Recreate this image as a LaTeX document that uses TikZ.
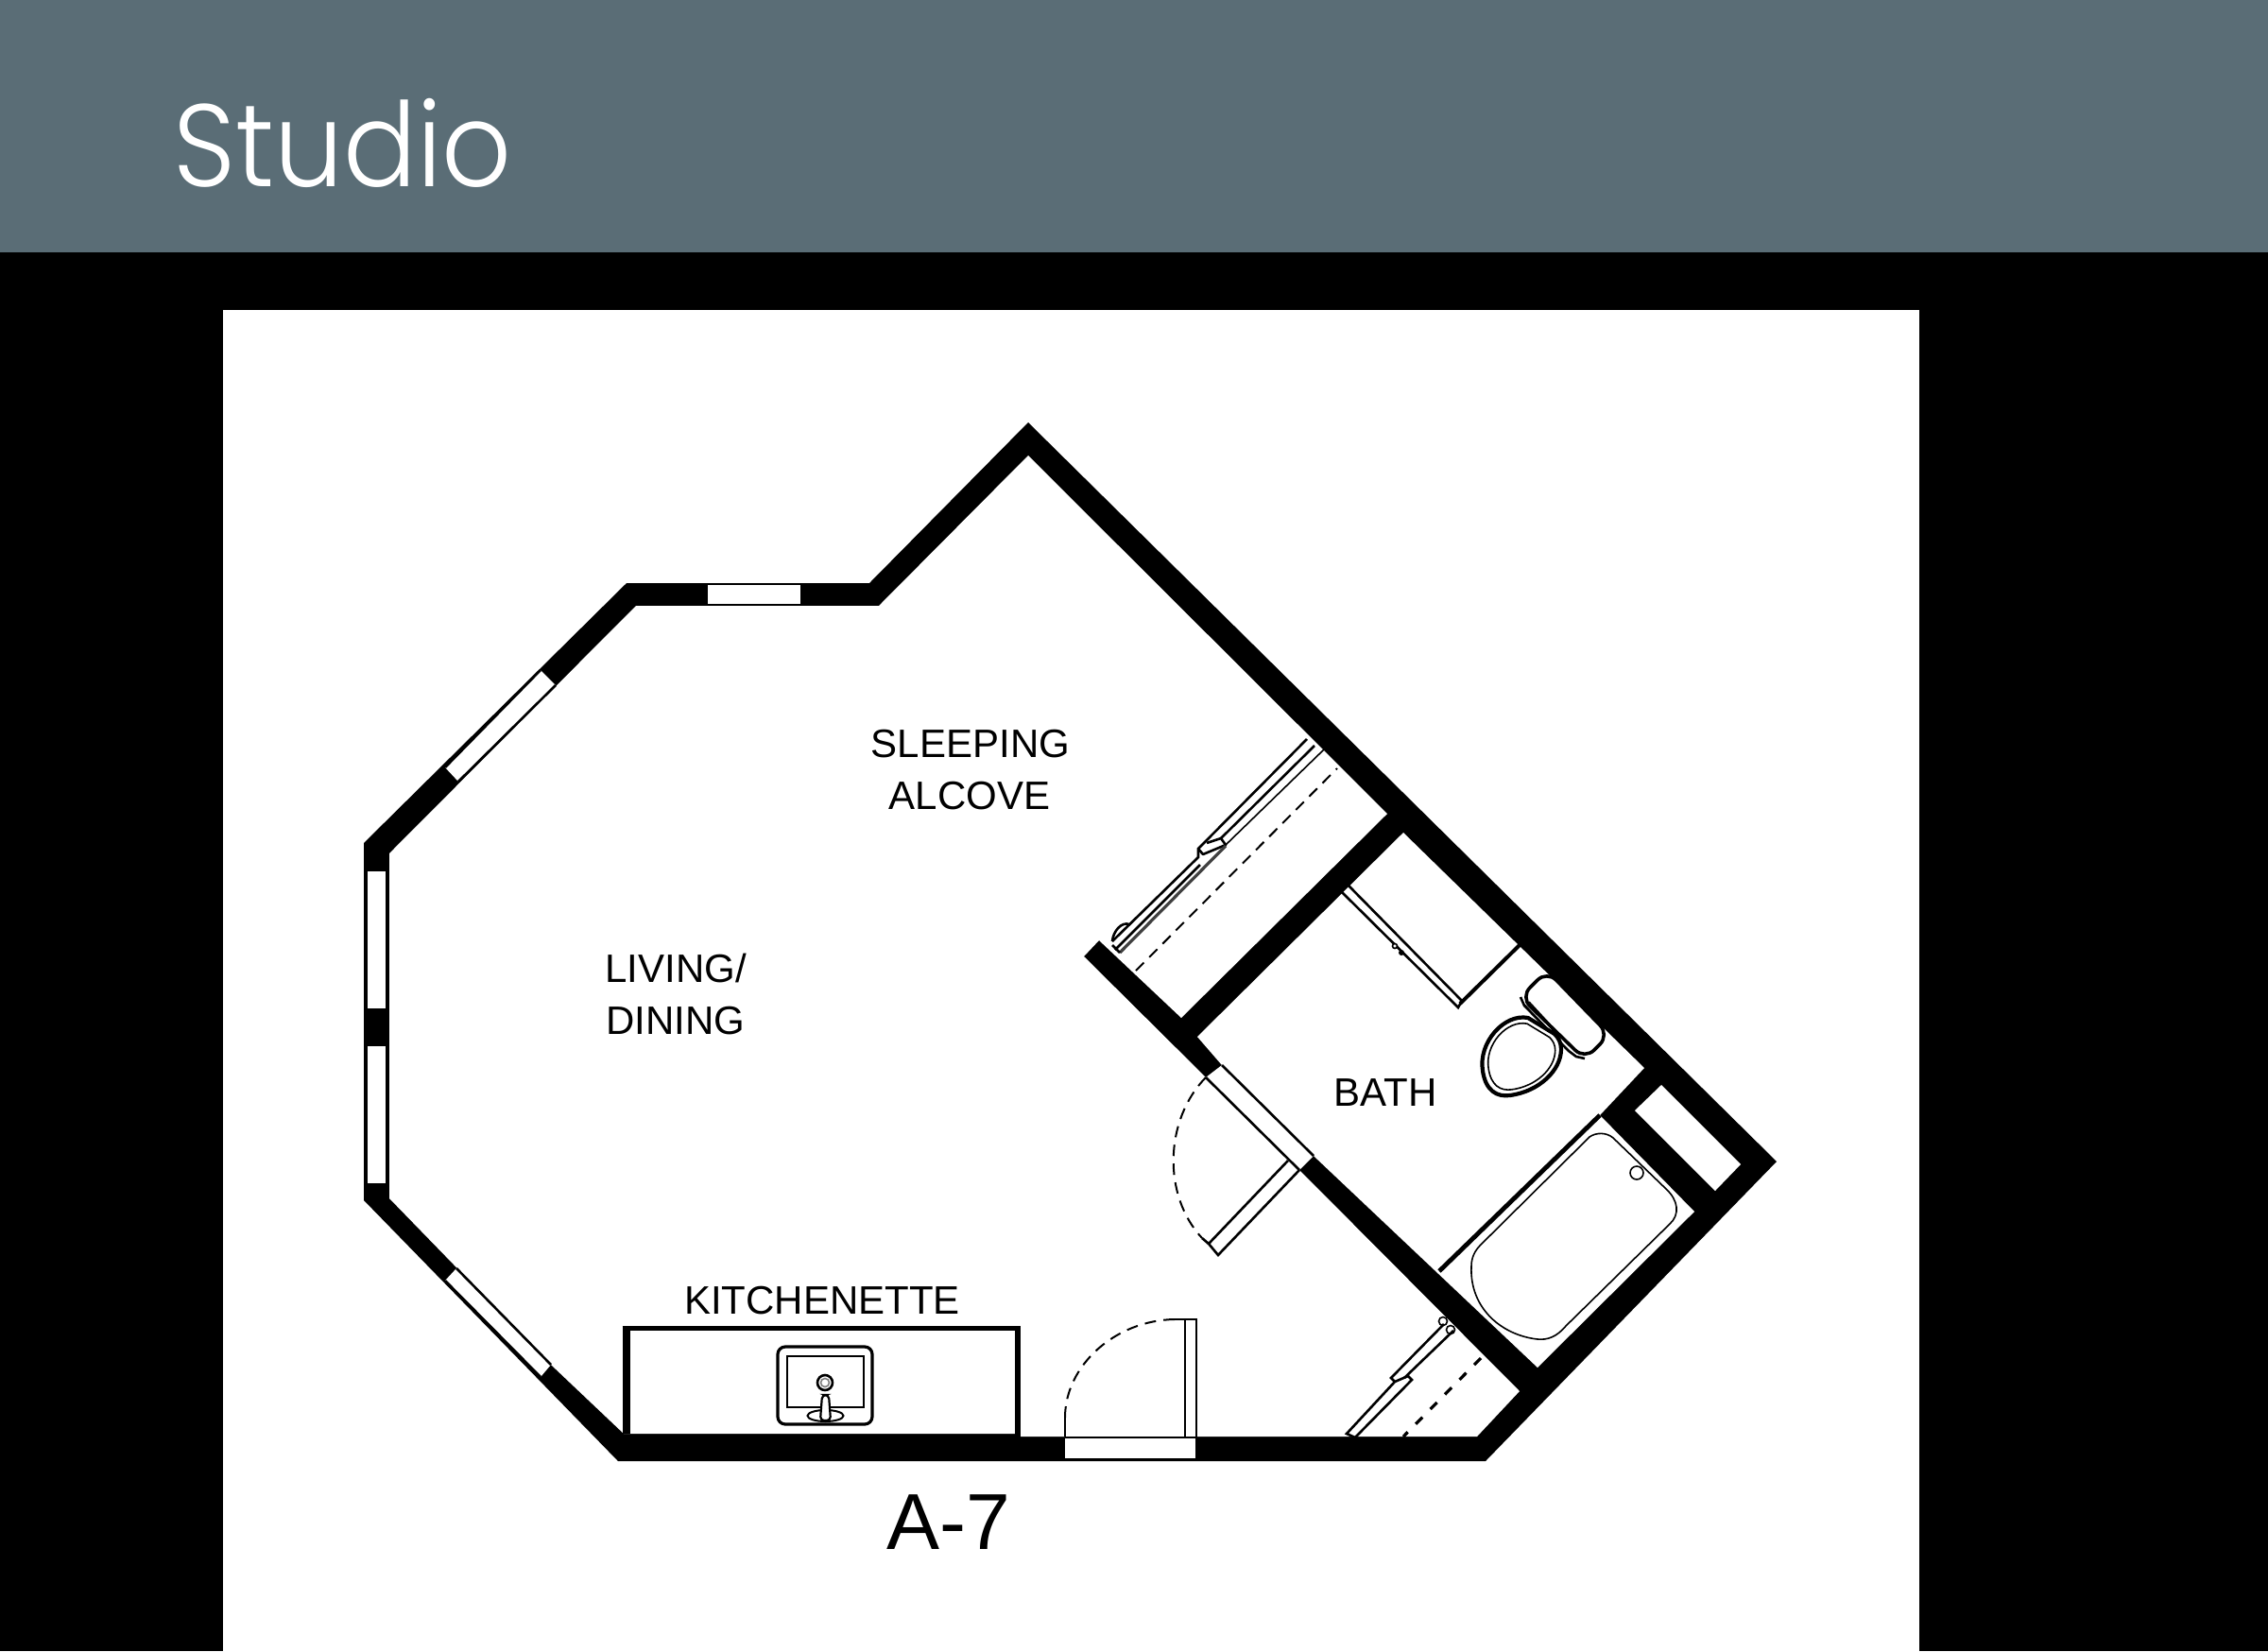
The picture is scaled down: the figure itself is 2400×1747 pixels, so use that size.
\documentclass[tikz,border=0pt]{standalone}
\usepackage{fontspec}
\setmainfont{Liberation Sans}
\newfontfamily\titlefont[UprightFont=* Light]{Poppins}
\definecolor{headerblue}{HTML}{5A6D76}
\tikzset{
  room/.style={fill=white,draw=none},
  thinln/.style={draw=black,line width=1.3pt},
  hair/.style={draw=black,line width=.8pt},
  dash1/.style={draw=black,line width=1pt,dash pattern=on 6pt off 4pt},
  dash2/.style={draw=black,line width=1.6pt,dash pattern=on 5pt off 6pt},
  lbl/.style={font=\fontsize{21}{21}\selectfont,inner sep=0pt,anchor=base,text=black},
}
\newcommand{\bowlshape}{(7,-41) .. controls (-18,-46) and (-46,-15) .. (-41,15) .. controls (-38,36) and (-26,43) .. (-12,41) .. controls (18,37) and (42,15) .. (42,-8) .. controls (42,-15) and (39,-20) .. (35,-24) -- cycle}
\begin{document}
\begin{tikzpicture}[x=.5pt,y=-.5pt]
\useasboundingbox (0,0) rectangle (2400,1747);
\fill[black] (0,0) rectangle (2400,1747);
\fill[headerblue] (0,0) rectangle (2400,267);
\fill[white] (236,328) rectangle (2031,1747);
\node[anchor=base west,inner sep=0pt,text=white,font=\titlefont\fontsize{62}{62}\selectfont] (title) at (183,197) {\scalebox{.93}[1]{Studio}};

% walls
\fill[black] (1088,447) -- (1880,1229) -- (1572,1546) -- (654,1546) -- (385,1270) -- (385,892) -- (663,617) -- (920,617) -- cycle;
% main room and closets
\fill[room] (1088,482) -- (1468,861) -- (1250,1077) -- (1163,995) -- (1147,1012) -- (1276,1140) -- (1375,1238) -- (1608,1472) -- (1563,1520) -- (1080,1520) -- (1080,1517) -- (660,1517) -- (583,1444) -- (412,1268) -- (412,903) -- (673,641) -- (930,641) -- cycle;
% bath
\fill[room] (1485,881) -- (1740,1130) -- (1693,1180) -- (1793,1282) -- (1627,1447) -- (1390,1223) -- (1293,1127) -- (1267,1097) -- cycle;
% shaft
\fill[room] (1758,1148) -- (1842,1232) -- (1815,1260) -- (1730,1175) -- cycle;

% windows
\fill[room] (749,619) rectangle (847,639);
\fill[room] (572,709) -- (588,725) -- (485,827) -- (471,812) -- cycle;
\fill[room] (389,922) rectangle (408,1067);
\fill[room] (389,1107) rectangle (408,1252);
\fill[room] (483,1342) -- (583,1444) -- (572,1457) -- (471,1355) -- cycle;
\draw[thinln] (572,709) -- (471,812) (588,725) -- (485,827);
\draw[thinln] (483,1342) -- (583,1444) (471,1355) -- (572,1457);

% bath door opening and leaf
\fill[room] (1276,1140) -- (1293,1127) -- (1390,1223) -- (1375,1238) -- cycle;
\draw[thinln] (1276,1140) -- (1375,1238) (1293,1127) -- (1390,1223);
\draw[thinln,line join=miter] (1363,1228) -- (1279,1316) -- (1289,1328) -- (1375,1238);
\draw[dash1] (1276,1140) .. controls (1232,1185) and (1230,1265) .. (1272,1310);
\draw[thinln] (1272,1310) -- (1279,1316);

% entry door
\fill[room] (1127,1522) rectangle (1265,1543);
\draw[thinln] (1127,1521) -- (1267,1521);
\draw[thinln] (1254,1520) -- (1254,1397) (1266,1520) -- (1266,1396) -- (1243,1396);
\draw[dash1] (1127,1500) .. controls (1127,1445) and (1180,1397) .. (1243,1396);
\draw[thinln] (1127,1520) -- (1127,1500);

% kitchenette counter
\draw[line width=4pt,line cap=butt] (662.5,1517) -- (662.5,1403);
\draw[line width=2.5pt,line cap=butt] (658.5,1405) -- (1080,1405);
\draw[line width=3pt,line cap=butt] (1077,1403) -- (1077,1520);
% sink
\draw[draw=black,line width=1.6pt,rounded corners=4pt] (823,1425) rectangle (923,1507);
\draw[draw=black,line width=1.4pt] (833,1435) rectangle (914,1489);
\draw[draw=black,line width=1.3pt] (873,1463) circle [radius=8];
\draw[draw=gray,line width=.8pt] (873,1463) circle [radius=4.5];
\draw[black,fill=white,line width=1pt] (873.5,1498) ellipse [x radius=19,y radius=6];
\draw[black,fill=white,line width=1.1pt,rounded corners=2pt] (868,1503) -- (870,1476) -- (877,1476) -- (879,1503) -- cycle;

% closet 1 folding door
\draw[thinln] (1177,996) -- (1268,907) -- (1268,898) -- (1383,782);
\draw[thinln,line join=round] (1268,898) -- (1273,904) -- (1297,894) -- (1292,887) -- (1277,892);
\draw[thinln] (1292,887) -- (1391,789);
\draw[hair] (1297,894) -- (1401,793);
\draw[thinln] (1180,1005) -- (1270,915);
\draw[draw=black!75,line width=1.6pt] (1185,1008) -- (1297,895);
\draw[thinln] (1177,1000) -- (1185,1008);
\draw[thinln] (1177,996) .. controls (1178,985) and (1187,975) .. (1195,978);
\draw[dash1] (1202,1027) -- (1415,813);

% closet 2 folding door
\draw[thinln] (1528,1401) -- (1472,1458) -- (1476,1462) -- (1425,1517) -- (1434,1521) -- (1494,1460) -- (1490,1456) -- (1476,1462);
\draw[thinln] (1538,1408) -- (1486,1458);
\draw[hair] (1527,1398) circle [radius=4.5];
\draw[hair] (1535,1407) circle [radius=4.5];
\draw[dash2] (1567,1437) -- (1485,1520);

% bathtub
\draw[line width=2.4pt,line cap=butt] (1523,1345) -- (1693,1180);
\draw[hair] (1682,1203) .. controls (1689,1198) and (1700,1198) .. (1707,1204) -- (1763,1258) .. controls (1776,1270) and (1778,1285) .. (1767,1295) -- (1657,1403) .. controls (1647,1415) and (1637,1418) .. (1627,1417) .. controls (1590,1413) and (1555,1385) .. (1557,1340) .. controls (1557,1330) and (1561,1323) .. (1567,1317) -- cycle;
\draw[hair] (1732,1241) circle [radius=7];

% vanity
\draw[line width=2pt,line cap=butt] (1608,1000) -- (1545,1062);
\draw[thinln] (1419,943) -- (1543,1066) -- (1547,1059) -- (1427,937);
\draw[hair,fill=white] (1476,1001) circle [radius=2.5];
\fill[black] (1483,1008) circle [radius=3];

% toilet
\draw[fill=white,draw=black,line width=1.8pt,rounded corners=7pt] (1637,1027) -- (1703,1095) -- (1677,1121) -- (1609,1055) -- cycle;
\draw[hair] (1613,1063) -- (1648,1100) (1618,1060) -- (1653,1098);
\draw[thinln] (1609,1055) -- (1613,1064) -- (1660,1112) -- (1668,1118) -- (1677,1120);
\begin{scope}[shift={(1610,1118)}]
\draw[fill=white,draw=black,line width=2.1pt,line join=round] \bowlshape;
\begin{scope}[scale=.85]
\draw[draw=black,line width=.8pt,line join=round] \bowlshape;
\end{scope}
\end{scope}

% labels
\node[lbl] (living) at (715,1039) {LIVING/};
\node[lbl] (dining) at (715,1094) {DINING};
\node[lbl] (sleeping) at (1027,801) {SLEEPING};
\node[lbl] (alcove) at (1026,856) {ALCOVE};
\node[lbl] (bath) at (1466,1170) {BATH};
\node[lbl] (kitchen) at (870,1390) {KITCHENETTE};
\node[lbl,font=\fontsize{42}{42}\selectfont] (plan) at (1004,1639) {A-7};
\end{tikzpicture}
\end{document}
